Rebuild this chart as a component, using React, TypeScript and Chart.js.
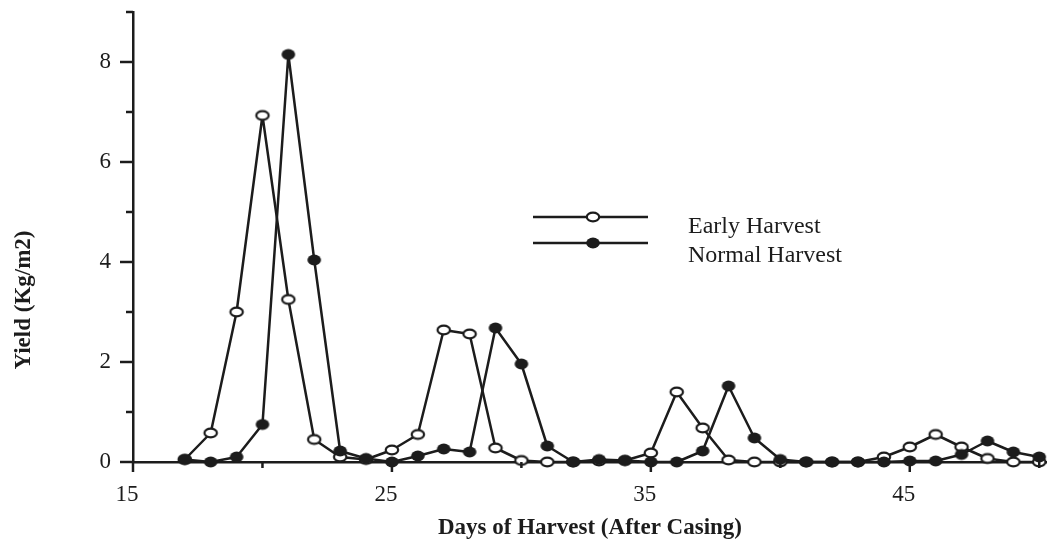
import React, { useEffect, useRef } from "react";
import { Chart, registerables } from "chart.js";

Chart.register(...registerables);

// ---- data ----
const days = [17, 18, 19, 20, 21, 22, 23, 24, 25, 26, 27, 28, 29, 30, 31, 32, 33, 34, 35, 36, 37, 38, 39, 40, 41, 42, 43, 44, 45, 46, 47, 48, 49, 50];
const earlyHarvest = [0.05, 0.58, 3.0, 6.93, 3.25, 0.45, 0.1, 0.05, 0.24, 0.55, 2.64, 2.56, 0.28, 0.03, 0.0, 0.0, 0.02, 0.03, 0.18, 1.4, 0.68, 0.04, 0.0, 0.0, 0.0, 0.0, 0.0, 0.1, 0.3, 0.55, 0.3, 0.07, 0.0, 0.0];
const normalHarvest = [0.05, 0.0, 0.1, 0.75, 8.15, 4.04, 0.22, 0.07, 0.0, 0.12, 0.26, 0.2, 2.68, 1.96, 0.32, 0.0, 0.05, 0.03, 0.0, 0.0, 0.22, 1.52, 0.48, 0.05, 0.0, 0.0, 0.0, 0.0, 0.02, 0.02, 0.15, 0.42, 0.2, 0.1];
const seriesNames = ["Early Harvest", "Normal Harvest"];
const xTickValues = [15, 20, 25, 30, 35, 40, 45, 50];
const xTickLabels = ["15", "", "25", "", "35", "", "45", ""];
const yTickValues = [0, 1, 2, 3, 4, 5, 6, 7, 8, 9];
const yTickLabels = ["0", "", "2", "", "4", "", "6", "", "8", ""];
const xTitle = "Days of Harvest (After Casing)";
const yTitle = "Yield (Kg/m2)";

const INK = "#1c1c1c";
const SERIF = '"Liberation Serif", "Times New Roman", serif';

function makeMarker(filled: boolean): HTMLCanvasElement {
  const c = document.createElement("canvas");
  c.width = 18;
  c.height = 14;
  const ctx = c.getContext("2d")!;
  ctx.beginPath();
  if (filled) {
    ctx.ellipse(9, 7, 6.8, 5.4, 0, 0, Math.PI * 2);
    ctx.fillStyle = INK;
    ctx.fill();
  } else {
    ctx.ellipse(9, 7, 6.2, 4.3, 0, 0, Math.PI * 2);
    ctx.fillStyle = "#ffffff";
    ctx.fill();
    ctx.lineWidth = 2.2;
    ctx.strokeStyle = INK;
    ctx.stroke();
  }
  return c;
}

const decorPlugin = {
  id: "decor",
  afterDraw(chart: any) {
    const { ctx, chartArea, scales } = chart;
    const xs = scales.x;
    const ys = scales.y;
    ctx.save();
    ctx.strokeStyle = INK;
    ctx.lineWidth = 2.5;
    // y tick marks
    yTickValues.forEach((v, i) => {
      const py = ys.getPixelForValue(v);
      const len = yTickLabels[i] !== "" ? 13 : 7;
      ctx.beginPath();
      ctx.moveTo(chartArea.left - len, py);
      ctx.lineTo(chartArea.left, py);
      ctx.stroke();
    });
    // x tick marks
    xTickValues.forEach((v, i) => {
      const px = xs.getPixelForValue(v);
      const len = xTickLabels[i] !== "" ? 10 : 6;
      ctx.beginPath();
      ctx.moveTo(px, chartArea.bottom);
      ctx.lineTo(px, chartArea.bottom + len);
      ctx.stroke();
    });
    // y title
    ctx.fillStyle = INK;
    ctx.font = `bold 23px ${SERIF}`;
    ctx.textAlign = "center";
    ctx.textBaseline = "middle";
    ctx.translate(24, 300);
    ctx.rotate(-Math.PI / 2);
    ctx.fillText(yTitle, 0, 0);
    ctx.restore();

    // legend
    ctx.save();
    const rows = [217, 243];
    const textY = [233, 262];
    chart.data.datasets.slice().sort((a: any, b: any) => a.legendIndex - b.legendIndex).forEach((ds: any, i: number) => {
      const y = rows[i];
      ctx.strokeStyle = ds.borderColor;
      ctx.lineWidth = ds.borderWidth;
      ctx.beginPath();
      ctx.moveTo(533, y);
      ctx.lineTo(648, y);
      ctx.stroke();
      const img = ds.pointStyle as HTMLCanvasElement;
      ctx.drawImage(img, 593 - img.width / 2, y - img.height / 2);
      ctx.fillStyle = INK;
      ctx.font = `24px ${SERIF}`;
      ctx.textAlign = "left";
      ctx.textBaseline = "alphabetic";
      ctx.fillText(ds.label, 688, textY[i]);
    });
    ctx.restore();
  },
};

export default function App() {
  const ref = useRef<HTMLCanvasElement | null>(null);

  useEffect(() => {
    if (!ref.current) return;
    const openMarker = makeMarker(false);
    const filledMarker = makeMarker(true);
    const common = {
      borderColor: INK,
      borderWidth: 2.5,
      borderJoinStyle: "round",
      pointRadius: 6,
      tension: 0,
      clip: false,
    };
    const chart = new Chart(ref.current, {
      type: "line",
      data: {
        datasets: [
          {
            ...common,
            label: seriesNames[0],
            legendIndex: 0,
            data: days.map((d, i) => ({ x: d, y: earlyHarvest[i] })),
            pointStyle: openMarker,
            order: 1,
          } as any,
          {
            ...common,
            label: seriesNames[1],
            legendIndex: 1,
            data: days.map((d, i) => ({ x: d, y: normalHarvest[i] })),
            pointStyle: filledMarker,
            order: 0,
          } as any,
        ],
      },
      options: {
        animation: false,
        responsive: false,
        devicePixelRatio: 1,
        layout: { autoPadding: false, padding: { top: 12, left: 0, right: 0, bottom: 0 } },
        plugins: {
          legend: { display: false },
          tooltip: { enabled: false },
        },
        scales: {
          x: {
            type: "linear",
            min: 15,
            max: 50.3,
            afterBuildTicks: (scale: any) => {
              scale.ticks = xTickValues.map((v) => ({ value: v }));
            },
            afterFit: (scale: any) => {
              scale.height = 84;
              scale.paddingLeft = 0;
              scale.paddingRight = 0;
              scale.paddingTop = 0;
              scale.paddingBottom = 0;
            },
            grid: { display: false, drawTicks: false },
            border: { display: true, color: INK, width: 2.5 },
            ticks: {
              autoSkip: false,
              maxRotation: 0,
              padding: 19,
              labelOffset: -6,
              color: INK,
              font: { family: SERIF, size: 23 },
              callback: (v: any) => {
                const i = xTickValues.indexOf(Number(v));
                return i >= 0 ? xTickLabels[i] : "";
              },
            },
            title: {
              display: true,
              text: xTitle,
              color: INK,
              font: { family: SERIF, size: 23, weight: "bold" },
              padding: { top: 0, bottom: 4 },
            },
          },
          y: {
            type: "linear",
            min: 0,
            max: 9,
            afterBuildTicks: (scale: any) => {
              scale.ticks = yTickValues.map((v) => ({ value: v }));
            },
            afterFit: (scale: any) => {
              scale.width = 133;
              scale.paddingLeft = 0;
              scale.paddingRight = 0;
              scale.paddingTop = 0;
              scale.paddingBottom = 0;
            },
            grid: { display: false, drawTicks: false },
            border: { display: true, color: INK, width: 2.5 },
            ticks: {
              autoSkip: false,
              padding: 22,
              color: INK,
              font: { family: SERIF, size: 23 },
              callback: (v: any) => {
                const i = yTickValues.indexOf(Number(v));
                return i >= 0 ? yTickLabels[i] : "";
              },
            },
          },
        },
      },
      plugins: [decorPlugin],
    });
    return () => chart.destroy();
  }, []);

  return (
    <div style={{ position: "absolute", left: 0, top: 0, width: 1047, height: 546, background: "#fff" }}>
      <canvas ref={ref} width={1047} height={546} />
    </div>
  );
}
